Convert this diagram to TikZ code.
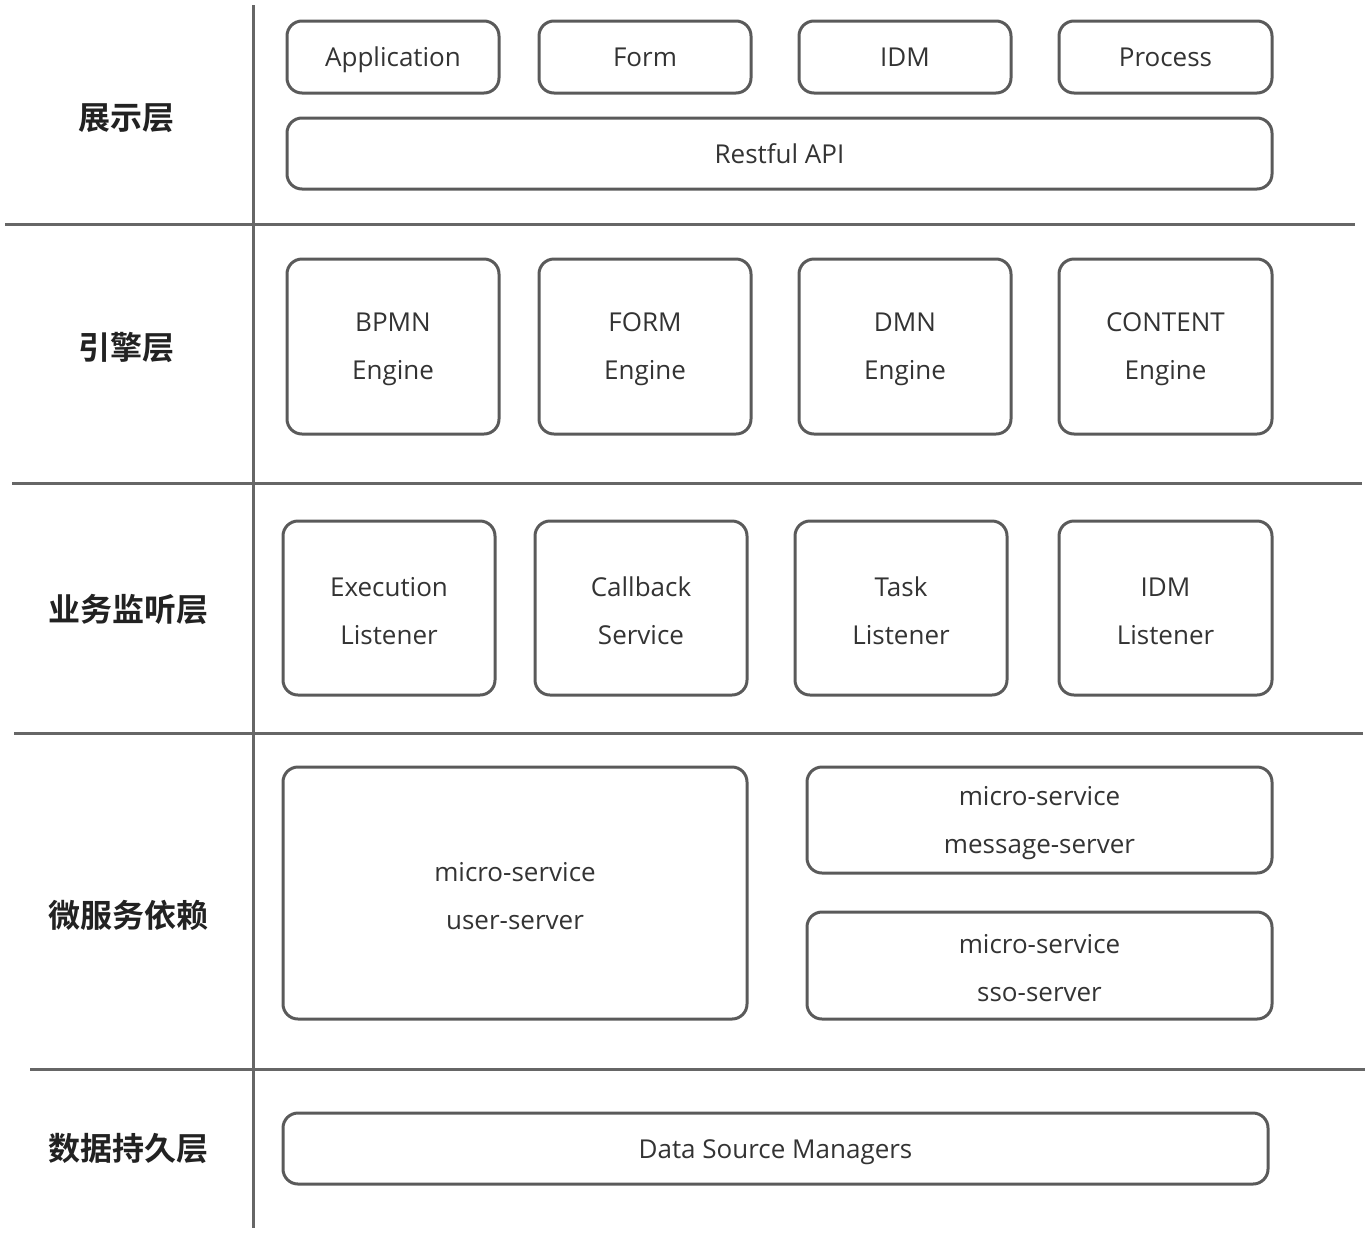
\documentclass[tikz,border=0pt]{standalone}
\usepackage{fontspec}
\setmainfont{Open Sans}
\newfontfamily\cjkb{Noto Sans CJK SC Bold}
\definecolor{linegray}{HTML}{666666}
\definecolor{boxgray}{HTML}{5A5A5A}
\definecolor{txt}{HTML}{333333}
\definecolor{lbl}{HTML}{222222}
\newcommand\tp{\rule{0pt}{25pt}}
\begin{document}
\begin{tikzpicture}[x=1pt,y=-1pt,
  box/.style={draw=boxgray, line width=3pt, rounded corners=15pt, inner sep=0pt,
    align=center, text=txt, font={\fontsize{26}{48}\selectfont}},
  single/.style={text height=22pt, text depth=3pt},
  sep/.style={draw=linegray, line width=3pt},
  layer/.style={text=lbl, font={\cjkb\fontsize{32}{38}\selectfont}}]
\useasboundingbox (0,0) rectangle (1370,1232);
% separators
\draw[sep] (5,224) -- (1355,224);
\draw[sep] (12,483) -- (1362,483);
\draw[sep] (14,733) -- (1363,733);
\draw[sep] (30,1069) -- (1365,1069);
\draw[sep] (253,5) -- (253,1228);
% layer labels
\node[layer] (l1) at (126,118) {展示层};
\node[layer] (l2) at (126,347) {引擎层};
\node[layer] (l3) at (128,609) {业务监听层};
\node[layer] (l4) at (128,915) {微服务依赖};
\node[layer] (l5) at (128,1148) {数据持久层};
% row 1
\node[box, single, minimum width=212pt, minimum height=72pt] (app) at (393,57) {Application};
\node[box, single, minimum width=212pt, minimum height=72pt] (form) at (645,57) {Form};
\node[box, single, minimum width=212pt, minimum height=72pt] (idm) at (905,57) {IDM};
\node[box, single, minimum width=213pt, minimum height=72pt] (proc) at (1165.5,57) {Process};
\node[box, single, minimum width=985pt, minimum height=71pt] (api) at (779.5,153.5) {Restful API};
% row 2
\node[box, minimum width=212pt, minimum height=175pt] (bpmn) at (393,346.5) {\tp BPMN\\Engine};
\node[box, minimum width=212pt, minimum height=175pt] (forme) at (645,346.5) {\tp FORM\\Engine};
\node[box, minimum width=212pt, minimum height=175pt] (dmn) at (905,346.5) {\tp DMN\\Engine};
\node[box, minimum width=213pt, minimum height=175pt] (cont) at (1165.5,346.5) {\tp CONTENT\\Engine};
% row 3
\node[box, minimum width=212pt, minimum height=174pt] (exe) at (389,608) {\tp Execution\\Listener};
\node[box, minimum width=212pt, minimum height=174pt] (cb) at (641,608) {\tp Callback\\Service};
\node[box, minimum width=212pt, minimum height=174pt] (task) at (901,608) {\tp Task\\Listener};
\node[box, minimum width=213pt, minimum height=174pt] (idml) at (1165.5,608) {\tp IDM\\Listener};
% row 4
\node[box, minimum width=464pt, minimum height=252pt] (user) at (515,893) {\tp micro-service\\user-server};
\node[box, minimum width=465pt, minimum height=106pt] (msg) at (1039.5,820) {\tp micro-service\\message-server};
\node[box, minimum width=465pt, minimum height=107pt] (sso) at (1039.5,965.5) {\tp micro-service\\sso-server};
% row 5
\node[box, single, minimum width=985pt, minimum height=71pt] (ds) at (775.5,1148.5) {Data Source Managers};
\end{tikzpicture}
\end{document}
